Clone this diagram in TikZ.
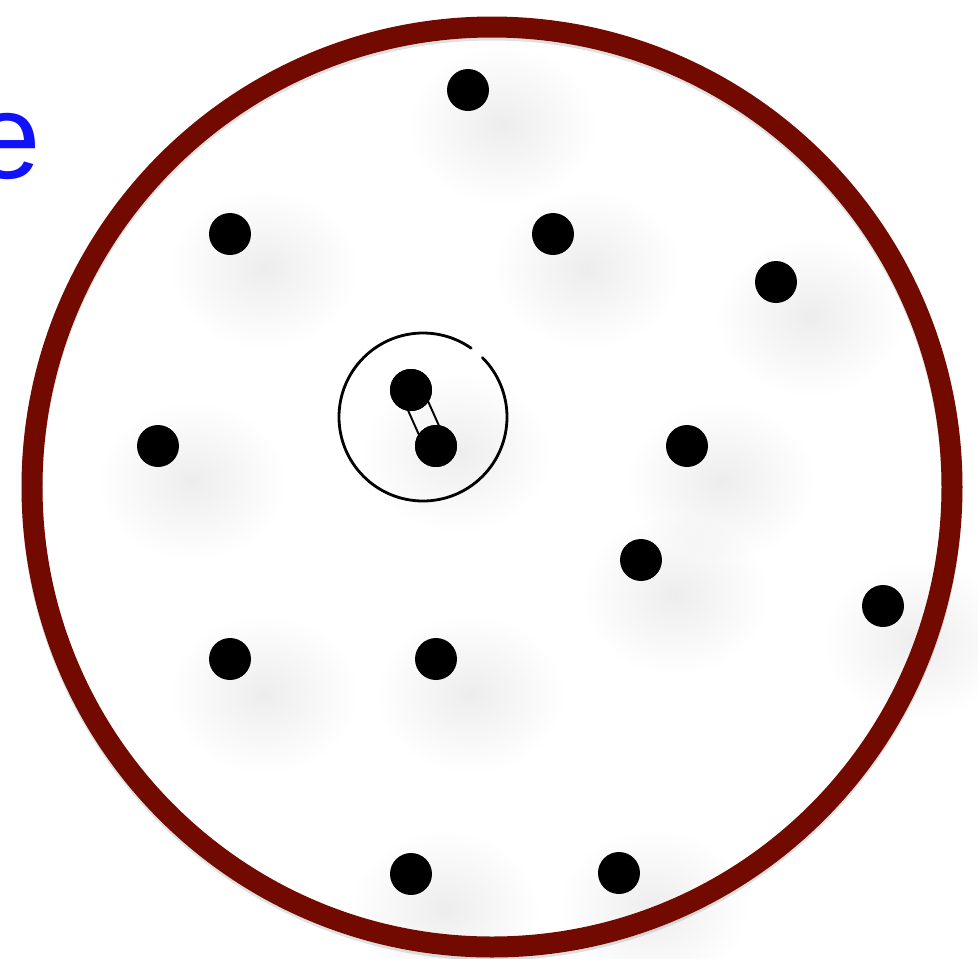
\documentclass[tikz,border=0pt]{standalone}
\usepackage{fontspec}
\setsansfont{Liberation Sans}
\usetikzlibrary{calc}
\usetikzlibrary{fadings}

\definecolor{rimred}{RGB}{114,10,0}
\definecolor{labelblue}{RGB}{18,18,250}

\tikzfading[name=softblob, inner color=transparent!0, outer color=transparent!100]

\begin{document}
\begin{tikzpicture}[
				x=0.02cm, y=-0.02cm,
				line cap=round,
				line join=round,
				dot/.style={circle, fill=black, inner sep=0pt, minimum size=0.84cm},
				blob/.style={fill=black, opacity=0.07, path fading=softblob},
				rim/.style={draw=rimred, line width=0.42cm},
				rimshadow/.style={draw=black, opacity=0.12, line width=0.42cm},
				bond/.style={line width=1.1pt},
				cage/.style={line width=1.6pt}
				]
				\useasboundingbox (0,0) rectangle (978,958);
				
				% Soft shadows
				\foreach \x/\y in {468/90,230/234,553/234,776/282,423/418,158/446,687/446,
					641/560,883/606,230/659,436/659,411/874,619/873}
				\fill[blob] (\x+34,\y+35) ellipse [x radius=95, y radius=80];
				
				% Container
				\draw[rimshadow] (492,490) circle (460);
				\draw[rim] (492,487) circle (460);
				
				% Cut-off label
				\node[anchor=base west, inner sep=0pt, text=labelblue,
				font=\sffamily\fontsize{69}{80}\selectfont] (lbl) at (-27,178) {e};
				
				% Particles
				\foreach \name/\x/\y in {d1/468/90,d2/230/234,d3/553/234,d4/776/282,
					d5/411/390,d6/436/446,d7/158/446,d8/687/446,d9/641/560,
					d10/883/606,d11/230/659,d12/436/659,d13/411/874,d14/619/873}
				\node[dot] (\name) at (\x,\y) {};
				
				% Bound pair
				\draw[cage] (423,417) ++(-45:84) arc[start angle=-45, end angle=305, radius=84];
				\draw[bond] ($(d5)!0.22cm!90:(d6)$) -- ($(d6)!0.22cm!-90:(d5)$);
				\draw[bond] ($(d5)!0.22cm!-90:(d6)$) -- ($(d6)!0.22cm!90:(d5)$);
				\node[dot] at (d5) {};
				\node[dot] at (d6) {};
			\end{tikzpicture}
\end{document}
